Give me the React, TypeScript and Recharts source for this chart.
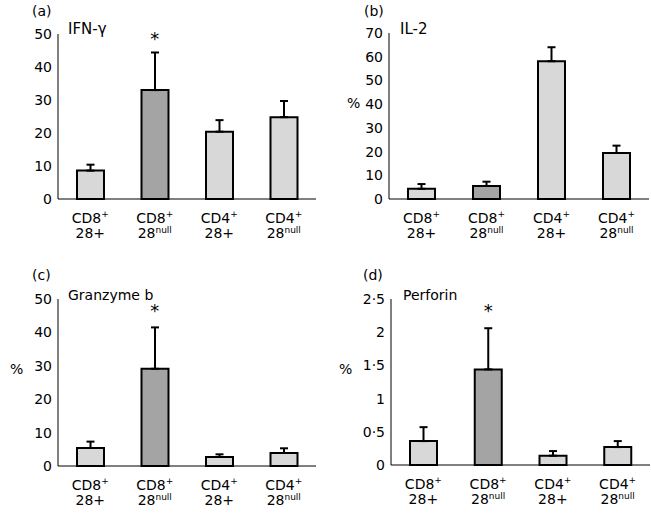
import { BarChart, Bar, XAxis, YAxis, ErrorBar, Cell, ReferenceDot } from 'recharts';

const categories = ['CD8+ 28+', 'CD8+ 28null', 'CD4+ 28+', 'CD4+ 28null'];
const cellTypes = ['CD8', 'CD8', 'CD4', 'CD4'];
const cd28Labels = ['28+', '28null', '28+', '28null'];

const ifnMean = [8.6, 33.0, 20.4, 24.8];
const ifnSem = [1.8, 11.4, 3.5, 4.9];
const il2Mean = [4.3, 5.5, 58.1, 19.4];
const il2Sem = [2.0, 1.8, 5.9, 3.1];
const granzymeMean = [5.4, 29.1, 2.7, 3.9];
const granzymeSem = [1.9, 12.4, 0.8, 1.4];
const perforinMean = [0.36, 1.44, 0.14, 0.27];
const perforinSem = [0.21, 0.62, 0.07, 0.09];

const ticksIfn = [0, 10, 20, 30, 40, 50];
const ticksIl2 = [0, 10, 20, 30, 40, 50, 60, 70];
const ticksGranzyme = [0, 10, 20, 30, 40, 50];
const ticksPerforin = [0, 0.5, 1, 1.5, 2, 2.5];

const sigIfn = [false, true, false, false];
const sigIl2 = [false, false, false, false];
const sigGranzyme = [false, true, false, false];
const sigPerforin = [false, true, false, false];

const LIGHT = '#d8d8d8';
const DARK = '#a4a4a4';
const FONT = '"DejaVu Sans", sans-serif';

function build(mean: number[], sem: number[]) {
  return categories.map((c, i) => ({ name: c, value: mean[i], err: [0, sem[i]] }));
}

function fmt(v: number) {
  return String(v).replace('.', '\u00b7');
}

function CategoryTick(props: any) {
  const { x, y, index } = props;
  const isNull = cd28Labels[index] === '28null';
  return (
    <g>
      <text x={x} y={y + 23.5} textAnchor="middle" fontSize={14} fontFamily={FONT} fill="#000">
        {cellTypes[index]}
        <tspan fontSize={9} dy={-6}>+</tspan>
      </text>
      <text x={x} y={y + 39} textAnchor="middle" fontSize={14} fontFamily={FONT} fill="#000">
        28
        {isNull ? <tspan fontSize={9} dy={-5}>null</tspan> : '+'}
      </text>
    </g>
  );
}

interface PanelProps {
  mean: number[];
  sem: number[];
  ticks: number[];
  sig: boolean[];
  starLevel: number;
  left: number;
  top: number;
  width: number;
  height: number;
  yWidth: number;
  mTop: number;
  xHeight: number;
  mRight: number;
}

function Panel(p: PanelProps) {
  const data = build(p.mean, p.sem);
  const max = p.ticks[p.ticks.length - 1];
  return (
    <div style={{ position: 'absolute', left: p.left, top: p.top }}>
      <BarChart
        width={p.width}
        height={p.height}
        data={data}
        margin={{ top: p.mTop, right: p.mRight, left: 0, bottom: 0 }}
        barCategoryGap={0}
      >
        <XAxis
          dataKey="name"
          height={p.xHeight}
          tickLine={false}
          tickSize={0}
          tickMargin={0}
          axisLine={{ stroke: '#000', strokeWidth: 1 }}
          tick={<CategoryTick />}
          interval={0}
        />
        <YAxis
          width={p.yWidth}
          domain={[0, max]}
          ticks={p.ticks}
          tickFormatter={fmt}
          tickLine={false}
          tickSize={0}
          tickMargin={6}
          axisLine={{ stroke: '#000', strokeWidth: 1 }}
          tick={{ fontSize: 14, fill: '#000', fontFamily: FONT }}
          interval={0}
        />
        <Bar dataKey="value" barSize={27} stroke="#000" strokeWidth={2} isAnimationActive={false}>
          {data.map((d, i) => (
            <Cell key={d.name} fill={i === 1 ? DARK : LIGHT} />
          ))}
          <ErrorBar dataKey="err" width={4} stroke="#000" strokeWidth={2} direction="y" />
        </Bar>
        {categories.map((c, i) =>
          p.sig[i] ? (
            <ReferenceDot
              key={c}
              x={c}
              y={p.starLevel}
              r={0}
              fill="none"
              stroke="none"
              label={{ value: '*', position: 'center', fontSize: 18, fill: '#000', fontFamily: FONT }}
            />
          ) : null
        )}
      </BarChart>
    </div>
  );
}

export default function App() {
  const t = { fontFamily: FONT, fontSize: 14, fill: '#000' };
  return (
    <div
      style={{
        position: 'absolute',
        left: 0,
        top: 0,
        width: 651,
        height: 514,
        background: '#fff',
        overflow: 'hidden',
      }}
    >
      <Panel mean={ifnMean} sem={ifnSem} ticks={ticksIfn} sig={sigIfn} starLevel={48.5}
        left={0} top={0} width={325} height={255} yWidth={58} mTop={34} xHeight={56} mRight={9} />
      <Panel mean={il2Mean} sem={il2Sem} ticks={ticksIl2} sig={sigIl2} starLevel={0}
        left={325} top={0} width={326} height={255} yWidth={64} mTop={33} xHeight={56} mRight={2} />
      <Panel mean={granzymeMean} sem={granzymeSem} ticks={ticksGranzyme} sig={sigGranzyme} starLevel={46.5}
        left={0} top={255} width={325} height={259} yWidth={58} mTop={44} xHeight={48} mRight={9} />
      <Panel mean={perforinMean} sem={perforinSem} ticks={ticksPerforin} sig={sigPerforin} starLevel={2.32}
        left={325} top={255} width={326} height={259} yWidth={66} mTop={44} xHeight={49} mRight={1} />
      <svg width={651} height={514} style={{ position: 'absolute', left: 0, top: 0, pointerEvents: 'none' }}>
        <text x={32} y={16} {...t}>(a)</text>
        <text x={68} y={34} {...t} fontSize={15}>IFN-γ</text>
        <text x={364} y={16} {...t}>(b)</text>
        <text x={400} y={34} {...t} fontSize={15}>IL-2</text>
        <text x={347} y={108} {...t}>%</text>
        <text x={32} y={280} {...t}>(c)</text>
        <text x={68} y={300} {...t}>Granzyme b</text>
        <text x={10} y={374} {...t}>%</text>
        <text x={363} y={280} {...t}>(d)</text>
        <text x={403} y={300} {...t}>Perforin</text>
        <text x={339} y={374} {...t}>%</text>
      </svg>
    </div>
  );
}
